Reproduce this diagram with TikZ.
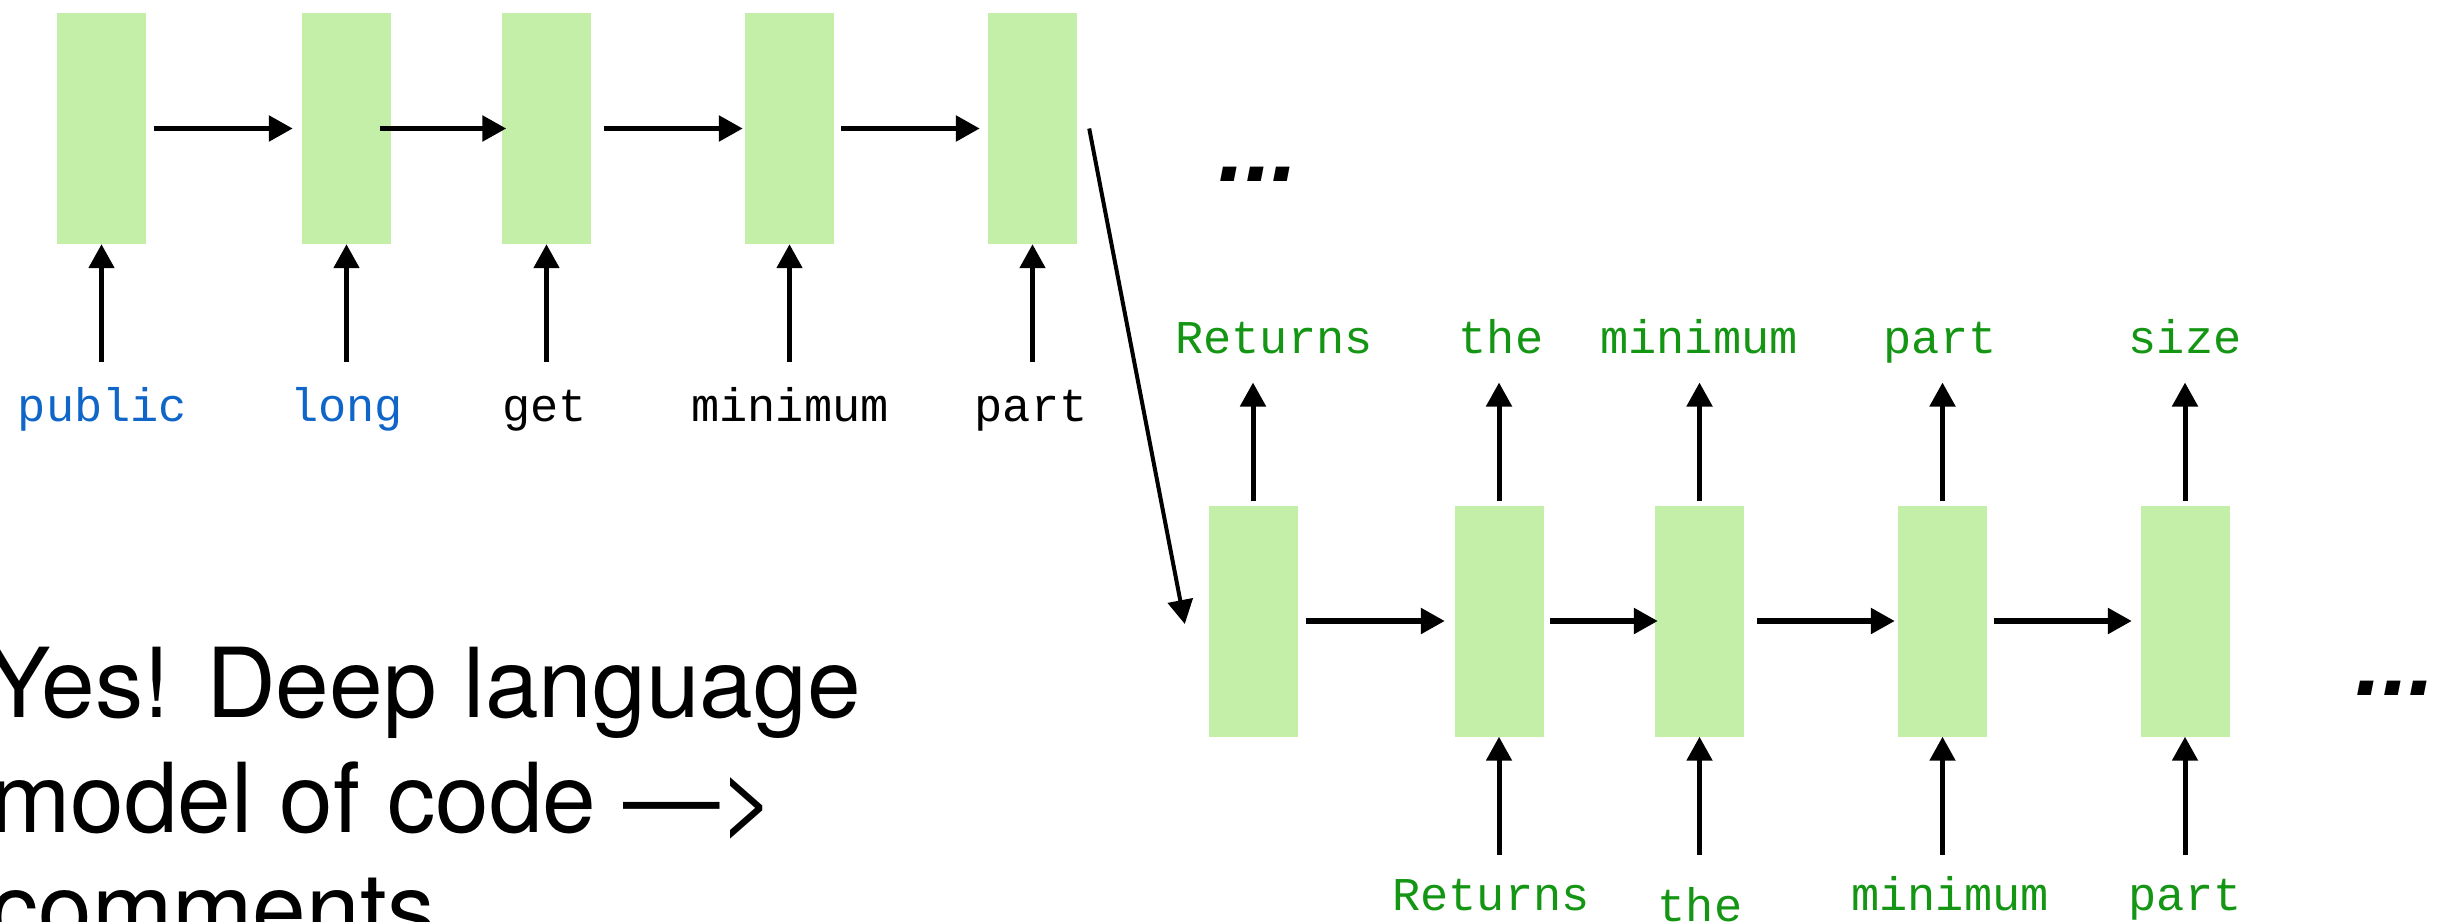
\documentclass[tikz,border=0pt]{standalone}
\usepackage{fontspec}
\setmonofont{Liberation Mono}
\newfontfamily\herosfont{TeX Gyre Heros}
\newfontfamily\dotsfont{Liberation Sans}
\usetikzlibrary{arrows.meta,calc}
\definecolor{boxgreen}{RGB}{195,239,169}
\definecolor{codeblue}{RGB}{16,102,200}
\definecolor{txtgreen}{RGB}{20,150,20}
\begin{document}
\begin{tikzpicture}[x=1pt,y=-1pt,
  cell/.style={fill=boxgreen, draw=none, minimum width=89pt, minimum height=231pt, inner sep=0pt},
  flow/.style={-{Triangle[length=24pt,width=25pt]}, line width=5.5pt},
  feed/.style={-{Triangle[length=24pt,width=25pt]}, line width=5pt},
  link/.style={-{Triangle[length=24pt,width=25pt]}, line width=4pt},
  word/.style={font=\ttfamily\fontsize{47}{56}\selectfont, inner sep=0pt, anchor=base},
  bigtext/.style={font=\herosfont\fontsize{96.5}{115}\selectfont, inner sep=0pt, anchor=base west},
  ellip/.style={font=\dotsfont\bfseries\itshape\fontsize{96.5}{115}\selectfont, inner sep=0pt, anchor=base west}]
\useasboundingbox (0,0) rectangle (2449,921);

% top row cells
\node[cell] (A1) at (101.5,128.5) {};
\node[cell] (A2) at (346.5,128.5) {};
\node[cell] (A3) at (546.5,128.5) {};
\node[cell] (A4) at (789.5,128.5) {};
\node[cell] (A5) at (1032.5,128.5) {};

\draw[flow, shorten <=8pt, shorten >=9pt] (A1.east) -- (A2.west);
\draw[flow, shorten <=-11.5pt, shorten >=-4.5pt] (A2.east) -- (A3.west);
\draw[flow, shorten <=13pt, shorten >=2pt] (A3.east) -- (A4.west);
\draw[flow, shorten <=7pt, shorten >=8pt] (A4.east) -- (A5.west);

% top row inputs
\node[word, text=codeblue] (i1) at (102.5,421) {public};
\node[word, text=codeblue] (i2) at (346.5,421) {long};
\node[word] (i3) at (544.7,421) {get};
\node[word] (i4) at (790,421) {minimum};
\node[word] (i5) at (1031,421) {part};

\draw[feed] ($(i1.base -| A1.south)+(0,-59)$) -- (A1.south);
\draw[feed] ($(i2.base -| A2.south)+(0,-59)$) -- (A2.south);
\draw[feed] ($(i3.base -| A3.south)+(0,-59)$) -- (A3.south);
\draw[feed] ($(i4.base -| A4.south)+(0,-59)$) -- (A4.south);
\draw[feed] ($(i5.base -| A5.south)+(0,-59)$) -- (A5.south);

% bottom row cells
\node[cell] (C1) at (1253,621) {};
\node[cell] (C2) at (1499,621) {};
\node[cell] (C3) at (1699.5,621) {};
\node[cell] (C4) at (1942.5,621) {};
\node[cell] (C5) at (2185,621) {};

\draw[flow, shorten <=8.5pt, shorten >=9.5pt] (C1.east) -- (C2.west);
\draw[flow, shorten <=6.5pt, shorten >=-3pt] (C2.east) -- (C3.west);
\draw[flow, shorten <=13pt, shorten >=3pt] (C3.east) -- (C4.west);
\draw[flow, shorten <=7pt, shorten >=8.5pt] (C4.east) -- (C5.west);

% link from top row to bottom row
\draw[link] ([xshift=12pt]A5.east) -- ([shift={(-23.5,3)}]C1.west);

% outputs of bottom row
\node[word, text=txtgreen] (o1) at (1274,353.5) {Returns};
\node[word, text=txtgreen] (o2) at (1501,353.5) {the};
\node[word, text=txtgreen] (o3) at (1699,353.5) {minimum};
\node[word, text=txtgreen] (o4) at (1940,353.5) {part};
\node[word, text=txtgreen] (o5) at (2185,353.5) {size};

\draw[feed] ([yshift=4pt]C1.north) -- ($(o1.base -| C1.north)+(0,29)$);
\draw[feed] ([yshift=4pt]C2.north) -- ($(o2.base -| C2.north)+(0,29)$);
\draw[feed] ([yshift=4pt]C3.north) -- ($(o3.base -| C3.north)+(0,29)$);
\draw[feed] ([yshift=4pt]C4.north) -- ($(o4.base -| C4.north)+(0,29)$);
\draw[feed] ([yshift=4pt]C5.north) -- ($(o5.base -| C5.north)+(0,29)$);

% inputs of bottom row
\node[word, text=txtgreen] (b2) at (1491,910) {Returns};
\node[word, text=txtgreen] (b3) at (1700,921) {the};
\node[word, text=txtgreen] (b4) at (1950,910) {minimum};
\node[word, text=txtgreen] (b5) at (2185,910) {part};

\draw[feed] ($(b2.base -| C2.south)+(0,-55)$) -- (C2.south);
\draw[feed] ($(b3.base -| C3.south)+(0,-66)$) -- (C3.south);
\draw[feed] ($(b4.base -| C4.south)+(0,-55)$) -- (C4.south);
\draw[feed] ($(b5.base -| C5.south)+(0,-55)$) -- (C5.south);

% ellipses
\node[ellip] (d1) at (1218,181) {...};
\node[ellip] (d2) at (2355,695) {...};

% caption text
\node[bigtext] (msg1) at (-14,717) {Yes! Deep language};
\node[bigtext] (msg2) at (-10,832) {model of code —>};
\node[bigtext] (msg3) at (-10,942) {comments};
\end{tikzpicture}
\end{document}
